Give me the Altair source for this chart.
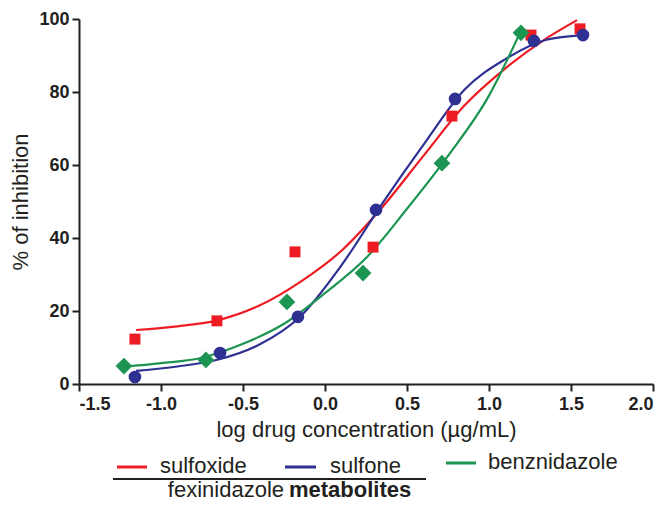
import altair as alt
import pandas as pd

FONT = "Liberation Sans"
RED = "#ED1C24"
BLUE = "#2E3192"
GREEN = "#1C9452"
INK = "#231F20"

series_names = ["sulfoxide", "sulfone", "benznidazole"]

# measured points
sulfoxide_x = [-1.159, -0.659, -0.183, 0.293, 0.774, 1.256, 1.555]
sulfoxide_y = [12.3, 17.3, 36.2, 37.5, 73.4, 95.6, 97.3]
sulfone_x = [-1.159, -0.640, -0.165, 0.311, 0.793, 1.274, 1.573]
sulfone_y = [1.9, 8.5, 18.4, 47.7, 78.1, 94.0, 95.6]
benz_x = [-1.226, -0.726, -0.232, 0.232, 0.713, 1.195]
benz_y = [4.9, 6.6, 22.5, 30.4, 60.5, 96.2]

# fitted curves
sulfoxide_cx = [-1.152, -0.9, -0.65, -0.4, -0.15, 0.1, 0.35, 0.6, 0.85, 1.1, 1.35, 1.537]
sulfoxide_cy = [14.8, 15.8, 17.5, 21.5, 28.0, 36.5, 48.5, 62.5, 76.3, 86.5, 94.7, 99.7]
sulfone_cx = [-1.152, -0.9, -0.65, -0.4, -0.15, 0.1, 0.35, 0.6, 0.85, 1.1, 1.35, 1.573]
sulfone_cy = [3.6, 4.8, 6.7, 10.8, 18.5, 32.5, 49.5, 65.5, 80.6, 89.0, 94.3, 95.6]
benz_cx = [-1.232, -1.0, -0.75, -0.5, -0.25, 0.0, 0.25, 0.5, 0.75, 1.0, 1.189]
benz_cy = [4.7, 5.7, 7.2, 11.0, 16.5, 24.9, 34.5, 48.0, 62.5, 79.0, 96.2]

x_ticks = [-1.5, -1.0, -0.5, 0.0, 0.5, 1.0, 1.5, 2.0]
y_ticks = [0, 20, 40, 60, 80, 100]

curves = pd.concat([
    pd.DataFrame({"x": sulfoxide_cx, "y": sulfoxide_cy, "s": "sulfoxide"}),
    pd.DataFrame({"x": sulfone_cx, "y": sulfone_cy, "s": "sulfone"}),
    pd.DataFrame({"x": benz_cx, "y": benz_cy, "s": "benznidazole"}),
])

color = alt.Color("s:N", scale=alt.Scale(domain=series_names, range=[RED, BLUE, GREEN]), legend=None)
xenc = alt.X("x:Q", scale=alt.Scale(domain=[-1.5, 2.0], nice=False),
             axis=alt.Axis(values=x_ticks, title="log drug concentration (µg/mL)",
                           labelExpr="replace(format(datum.value, '.1f'), '\u2212', '-')",
                           labelFontSize=18, labelFont=FONT, labelFontWeight="bold",
                           grid=False, tickSize=7, labelPadding=4, titlePadding=6))
yenc = alt.Y("y:Q", scale=alt.Scale(domain=[0, 100], nice=False),
             axis=alt.Axis(values=y_ticks, title="% of inhibition", grid=False,
                           labelFontSize=18, labelFont=FONT, labelFontWeight="bold",
                           tickSize=7, labelPadding=3, titlePadding=6))

lines = alt.Chart(curves).mark_line(strokeWidth=2.2, interpolate="monotone").encode(
    x=xenc, y=yenc, color=color, detail="s:N")


def pts_layer(xs, ys, shape, size, c):
    df = pd.DataFrame({"x": xs, "y": ys})
    return alt.Chart(df).mark_point(filled=True, opacity=1, shape=shape, size=size, color=c).encode(
        x="x:Q", y="y:Q")


points = alt.layer(
    pts_layer(sulfoxide_x, sulfoxide_y, "square", 120, RED),
    pts_layer(sulfone_x, sulfone_y, "circle", 160, BLUE),
    pts_layer(benz_x, benz_y, "diamond", 280, GREEN),
)

# custom legend
one = pd.DataFrame({"a": [0]})

def seg(x1, x2, y, c):
    return alt.Chart(one).mark_rule(strokeWidth=3, color=c).encode(
        x=alt.value(x1), x2=alt.value(x2), y=alt.value(y))

def txt(x, y, t, align="left", baseline="middle", weight="normal"):
    return alt.Chart(one).mark_text(
        font=FONT, fontSize=22, color=INK, align=align, baseline=baseline, fontWeight=weight).encode(
        x=alt.value(x), y=alt.value(y), text=alt.value(t))

legend = alt.layer(
    seg(38, 68, 448, RED), txt(81, 447, "sulfoxide"),
    seg(206, 237, 448, BLUE), txt(251, 447, "sulfone"),
    seg(367, 397, 444, GREEN), txt(409, 443, "benznidazole"),
    alt.Chart(one).mark_rule(strokeWidth=2, color=INK).encode(
        x=alt.value(34), x2=alt.value(347), y=alt.value(460)),
    txt(205, 478, "fexinidazole", align="right", baseline="alphabetic"),
    txt(210, 478, "metabolites", align="left", baseline="alphabetic", weight="bold"),
)

chart = alt.layer(lines, points, legend).properties(
    width=574, height=365,
    autosize=alt.AutoSizeParams(type="none"),
    padding={"left": 71, "top": 11, "right": 8, "bottom": 118},
).configure_view(stroke=None).configure_axis(
    domainColor=INK, domainWidth=2, tickColor=INK, tickWidth=2,
    labelFont=FONT, labelFontSize=18, labelFontWeight="bold", labelColor=INK,
    titleFont=FONT, titleFontSize=22, titleFontWeight="normal", titleColor=INK,
)

chart.save("out.html", embed_options={"renderer": "svg", "actions": False})
